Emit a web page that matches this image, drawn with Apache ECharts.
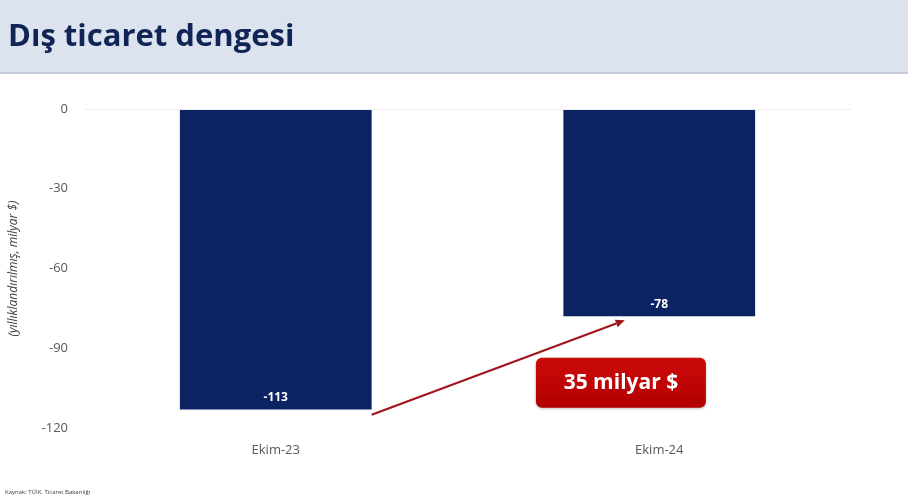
<!DOCTYPE html>
<html>
<head>
<meta charset="utf-8">
<script src="https://cdn.jsdelivr.net/npm/echarts@6/dist/echarts.min.js"></script>
<style>
  html, body { margin: 0; padding: 0; background: #fff; }
  #chart { width: 908px; height: 497px; }
</style>
</head>
<body>
<div id="chart"></div>
<script>
"use strict";

// data
var categories = ['Ekim-23', 'Ekim-24'];
var balance = [-113, -78];
var yTicks = [0, -30, -60, -90, -120];
// annotation: arrow from bottom of first bar up to the second one
var arrowFrom = -115;
var arrowTo = -79.5;
var boxValue = -103;
var boxText = '35 milyar $';

var navy = '#0b2263';
var font = '"Open Sans", "Noto Sans", sans-serif';

var chart = echarts.init(document.getElementById('chart'));

var option = {
	backgroundColor: '#ffffff',
	animation: false,
	grid: {
		left: 83,
		right: 57,
		top: 109,
		bottom: 69,
		containLabel: false
	},
	xAxis: {
		type: 'category',
		data: categories,
		axisLine: {show: false},
		axisTick: {show: false},
		axisLabel: {
			color: '#595959',
			fontFamily: font,
			fontSize: 13,
			margin: 16
		}
	},
	yAxis: {
		type: 'value',
		min: yTicks[yTicks.length - 1],
		max: yTicks[0],
		interval: 30,
		name: '(yıllıklandırılmış, milyar $)',
		nameLocation: 'middle',
		nameRotate: 90,
		nameGap: 64,
		nameTextStyle: {
			color: '#404040',
			fontFamily: font,
			fontStyle: 'italic',
			fontSize: 12
		},
		axisLine: {show: false},
		axisTick: {show: false},
		splitLine: {show: false},
		axisLabel: {
			color: '#595959',
			fontFamily: font,
			fontSize: 13,
			margin: 16
		}
	},
	series: [{
		type: 'bar',
		data: balance,
		barWidth: '50%',
		itemStyle: {color: navy},
		label: {
			show: true,
			position: 'insideBottom',
			distance: 6,
			color: '#ffffff',
			fontFamily: font,
			fontWeight: 'bold',
			fontSize: 12
		},
		markLine: {
			silent: true,
			symbol: 'none',
			label: {show: false},
			lineStyle: {color: '#eeeeee', width: 1, type: 'solid'},
			data: [{yAxis: 0}]
		}
	}]
};

chart.setOption(option);

// annotation placed through the axes
var c0 = chart.convertToPixel({seriesIndex: 0}, [0, 0]);
var c1 = chart.convertToPixel({seriesIndex: 0}, [1, 0]);
var band = c1[0] - c0[0];
var p1 = chart.convertToPixel({seriesIndex: 0}, [0, arrowFrom]);
var p2 = chart.convertToPixel({seriesIndex: 0}, [1, arrowTo]);
var pb = chart.convertToPixel({seriesIndex: 0}, [1, boxValue]);
var x1 = p1[0] + band * 0.25;
var x2 = p2[0] - band * 0.09;
var ang = Math.atan2(p2[1] - p1[1], x2 - x1);
var ah = 9, aw = 4;
var bx = pb[0] - band * 0.1;

chart.setOption({
	graphic: [
		{
			id: 'band',
			type: 'rect',
			shape: {x: 0, y: 0, width: 908, height: 73},
			style: {fill: '#dce3ef'},
			z: -1
		},
		{
			id: 'bandEdge',
			type: 'rect',
			shape: {x: 0, y: 72, width: 908, height: 2},
			style: {fill: '#c3c9d6'}
		},
		{
			id: 'title',
			type: 'text',
			x: 8, y: 37,
			style: {
				text: 'Dış ticaret dengesi',
				fill: '#102456',
				font: 'bold 31px ' + font,
				verticalAlign: 'middle'
			}
		},
		{
			id: 'source',
			type: 'text',
			x: 5, y: 492,
			style: {
				text: 'Kaynak: TÜİK, Ticaret Bakanlığı',
				fill: '#404040',
				font: '6px ' + font,
				verticalAlign: 'middle'
			}
		},
		{
			id: 'arrowLine',
			type: 'line',
			shape: {x1: x1, y1: p1[1], x2: x2 - Math.cos(ang) * ah, y2: p2[1] - Math.sin(ang) * ah},
			style: {stroke: '#a3151c', lineWidth: 2.2}
		},
		{
			id: 'arrowHead',
			type: 'polygon',
			shape: {points: [
				[x2, p2[1]],
				[x2 - Math.cos(ang) * ah - Math.sin(ang) * aw, p2[1] - Math.sin(ang) * ah + Math.cos(ang) * aw],
				[x2 - Math.cos(ang) * ah + Math.sin(ang) * aw, p2[1] - Math.sin(ang) * ah - Math.cos(ang) * aw]
			]},
			style: {fill: '#a3151c'}
		},
		{
			id: 'box',
			type: 'rect',
			shape: {x: bx - 85, y: pb[1] - 25, width: 170, height: 50, r: 6},
			style: {
				fill: {
					type: 'linear', x: 0, y: 0, x2: 0, y2: 1,
					colorStops: [{offset: 0, color: '#cc0a0a'}, {offset: 1, color: '#b30000'}]
				},
				shadowBlur: 3,
				shadowColor: 'rgba(0,0,0,0.25)',
				shadowOffsetY: 1
			}
		},
		{
			id: 'boxText',
			type: 'text',
			x: bx, y: pb[1],
			style: {
				text: boxText,
				fill: '#ffffff',
				font: 'bold 21px ' + font,
				align: 'center',
				verticalAlign: 'middle'
			}
		}
	]
});
</script>
</body>
</html>
